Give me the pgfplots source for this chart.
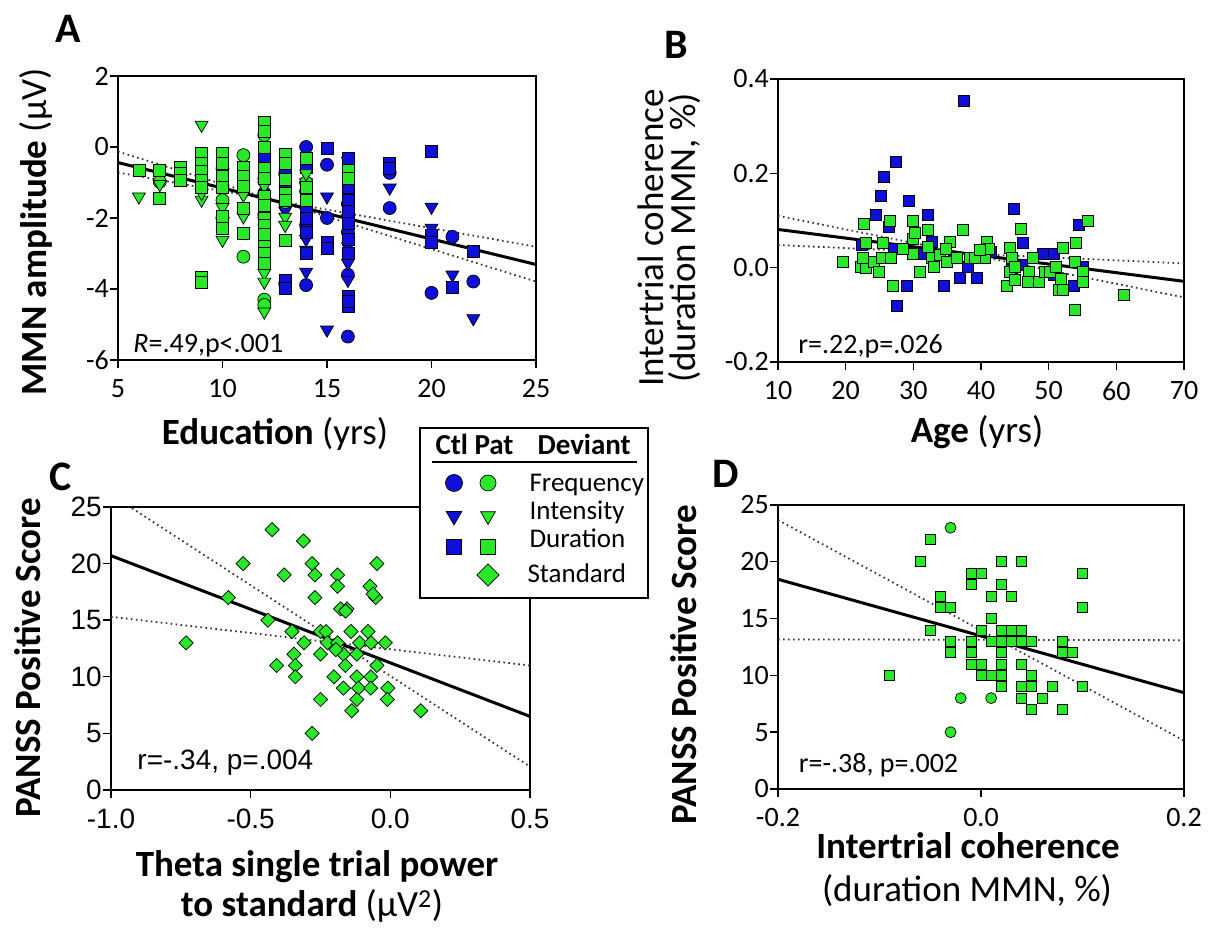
\documentclass[border=0pt]{standalone}
\usepackage{pgfplots}
\pgfplotsset{compat=1.18}
\usepackage{fontspec}
\setmainfont{Carlito}
\newfontfamily\arialfont{Liberation Sans}
\definecolor{ctlblue}{RGB}{15,15,220}
\definecolor{patgreen}{RGB}{40,232,40}
\newcommand{\tickfont}{\fontsize{28}{30}\selectfont}
\newcommand{\labfont}{\fontsize{37}{40}\selectfont}
\newcommand{\letfont}{\fontsize{42}{44}\selectfont\bfseries}
\pgfplotsset{
  panel/.style={
    scale only axis, anchor=south west,
    axis line style={line width=1.6pt},
    every tick/.style={black, line width=1.4pt},
    tick align=outside,
    xtick pos=left, ytick pos=left,
    major tick length=8pt,
    ticklabel style={font=\tickfont, inner sep=1pt},
    xticklabel style={yshift=-10pt},
    clip=true,
  },
  ctl/.style={only marks, mark options={fill=ctlblue, draw=black, line width=0.7pt}},
  pat/.style={only marks, mark options={fill=patgreen, draw=black, line width=0.7pt}},
  down/.style={mark=triangle*, every mark/.append style={rotate=180}},
  diam/.style={mark=square*, every mark/.append style={rotate=45}},
  reg/.style={no marks, black, line width=3pt},
  ci/.style={no marks, black!80, line width=1.8pt, dash pattern=on 1.6pt off 3.4pt},
}
\begin{document}
\begin{tikzpicture}
\useasboundingbox (0pt,0pt) rectangle (1213pt,928pt);

% ---------------- Panel A ----------------
\begin{axis}[panel, at={(118pt,568pt)}, width=418pt, height=284pt,
  xmin=5, xmax=25, ymin=-6, ymax=2,
  xtick={5,10,15,20,25}, xticklabels={5,10,15,20,25},
  ytick={-6,-4,-2,0,2}, yticklabels={-6,-4,-2,0,2}]
\addplot[ctl, mark=*, mark size=6.5pt] coordinates {
(12,-1.3) (13,-0.75) (14,0.0) (14,-1.25) (14,-2.2) (14,-3.89) (15,-0.5) (15,-2.0)
(16,-1.6) (16,-2.4) (16,-3.6) (16,-5.34) (18,-0.73) (18,-1.72) (20,-4.11) (21,-2.53)
(22,-3.79) (13,-3.85)};
\addplot[ctl, down, mark size=7.5pt] coordinates {
(12,-2.1) (13,-1.8) (14,-1.0) (14,-2.6) (14,-3.52) (15,-1.4) (15,-5.15) (16,-0.4)
(16,-2.0) (16,-3.27) (16,-3.75) (18,-1.15) (20,-1.69) (20,-2.28) (21,-3.6) (22,-4.83)
(14,-2.9) (16,-2.8)};
\addplot[ctl, mark=square*, mark size=6pt] coordinates {
(12,-0.31) (12,-2.5) (13,-0.56) (13,-1.15) (13,-3.75) (13,-3.97) (14,-0.56) (14,-1.7)
(14,-2.0) (14,-2.4) (14,-2.99) (15,-0.03) (15,-2.7) (15,-2.85) (16,-0.31) (16,-1.15)
(16,-1.49) (16,-1.8) (16,-2.15) (16,-2.6) (16,-2.99) (16,-4.2) (16,-4.5) (16,-4.35)
(18,-0.45) (18,-0.6) (20,-0.13) (20,-2.48) (20,-2.7) (21,-3.94) (22,-2.95)};
\addplot[pat, mark=*, mark size=6.5pt] coordinates {
(7,-0.98) (9,-0.95) (10,-1.5) (10,-2.0) (11,-0.23) (11,-3.09) (12,0.34) (12,-0.9)
(12,-1.9) (12,-4.3) (12,-4.45) (13,-1.55) (14,-1.0) (10,-0.6)};
\addplot[pat, down, mark size=7.5pt] coordinates {
(6,-1.4) (7,-1.05) (8,-0.9) (9,0.62) (9,-1.49) (9,-1.3) (10,-1.7) (10,-2.62) (10,-2.1)
(11,-1.96) (11,-1.35) (12,-1.1) (12,-3.55) (12,-3.8) (12,-4.64) (12,-2.3) (13,-1.97)
(13,-2.2) (14,-0.75)};
\addplot[pat, mark=square*, mark size=6pt] coordinates {
(6,-0.65) (7,-0.65) (7,-1.44) (8,-0.56) (8,-0.75) (8,-0.93) (9,-0.18) (9,-0.46) (9,-0.7)
(9,-0.95) (9,-1.15) (9,-3.66) (9,-3.8) (10,-0.18) (10,-0.46) (10,-0.84) (10,-1.15)
(10,-1.96) (10,-2.28) (11,-0.56) (11,-0.84) (11,-1.12) (11,-1.72) (11,-2.43) (12,0.68)
(12,0.45) (12,0.0) (12,-0.59) (12,-0.87) (12,-1.4) (12,-1.65) (12,-2.0) (12,-2.2)
(12,-2.7) (12,-3.0) (12,-3.27) (12,-2.45) (13,-0.2) (13,-0.45) (13,-0.9) (13,-1.3)
(13,-1.5) (13,-2.62) (14,-0.31) (14,-1.15) (14,-1.49) (16,-0.65) (16,-0.87)};
\addplot[ci] coordinates {(5,-0.13) (25,-3.79)};
\addplot[ci] coordinates {(5,-0.72) (25,-2.81)};
\addplot[reg] coordinates {(5,-0.44) (25,-3.31)};
\node[anchor=base west, font=\tickfont] at (axis cs:5.57,-5.80) {\textit{R}=.49,p<.001};
\end{axis}

% ---------------- Panel B ----------------
\begin{axis}[panel, at={(778pt,566pt)}, width=406pt, height=283pt,
  xmin=10, xmax=70, ymin=-0.2, ymax=0.4,
  xtick={10,20,30,40,50,60,70}, xticklabels={10,20,30,40,50,60,70},
  ytick={-0.2,0,0.2,0.4}, yticklabels={-0.2,0.0,0.2,0.4}]
\addplot[ctl, mark=square*, mark size=5.5pt] coordinates {
(37.4,0.353) (27.4,0.224) (25.7,0.193) (25.2,0.152) (29.3,0.141) (24.5,0.112) (32.1,0.112)
(44.8,0.124) (54.4,0.090) (46.2,0.052) (26.4,0.087) (32.7,0.055) (22.4,0.048) (27.1,0.040)
(31.1,0.030) (49.2,0.030) (50.7,0.030) (36.8,-0.021) (39.4,-0.021) (34.5,-0.039)
(29.0,-0.039) (27.6,-0.080) (38.0,0.002) (46.1,0.005) (53.7,-0.039) (55.0,0.002)
(50.7,-0.016) (41.4,0.034) (44.6,0.0) (36.0,0.020)};
\addplot[pat, mark=square*, mark size=5.5pt] coordinates {
(19.6,0.012) (22.7,0.093) (23.0,0.053) (22.3,0.002) (23.0,0.0) (22.5,0.02) (24.1,0.012)
(24.9,-0.009) (25.5,0.053) (25.3,0.02) (26.6,0.1) (26.7,0.02) (26.9,-0.039) (29.9,0.1)
(29.9,0.061) (30.0,0.03) (30.2,0.073) (28.5,0.04) (30.9,-0.009) (32.1,0.081) (32.2,0.044)
(32.8,0.02) (33.1,0.002) (33.9,0.027) (35.4,0.055) (34.8,0.04) (35.0,0.012) (37.3,0.081)
(36.4,0.02) (38.3,0.02) (40.0,0.03) (40.6,0.02) (40.9,0.055) (41.2,0.04) (39.1,0.02)
(44.2,0.043) (43.8,-0.039) (44.3,-0.009) (44.6,0.02) (45.0,0.002) (45.0,-0.026)
(45.9,0.083) (47.1,-0.009) (47.7,0.02) (46.9,-0.03) (48.5,-0.03) (49.4,-0.009)
(50.1,-0.009) (51.1,0.002) (51.5,-0.048) (52.1,-0.048) (51.8,-0.023) (52.1,0.043)
(54.0,0.053) (53.9,0.012) (55.0,-0.009) (55.0,-0.03) (55.8,0.1) (53.9,-0.089)
(61.1,-0.058) (39.8,0.037)};
\addplot[ci] coordinates {(10,0.110) (70,-0.063)};
\addplot[ci] coordinates {(10,0.048) (70,0.009)};
\addplot[reg] coordinates {(10,0.081) (70,-0.029)};
\node[anchor=base west, font=\tickfont] at (axis cs:12.5,-0.181) {r=.22,p=.026};
\end{axis}

% ---------------- Panel C ----------------
\begin{axis}[panel, at={(111pt,138pt)}, width=419pt, height=283pt,
  xmin=-1, xmax=0.5, ymin=0, ymax=25,
  ticklabel style={font=\arialfont\tickfont},
  xtick={-1,-0.5,0,0.5}, xticklabels={-1.0,-0.5,0.0,0.5},
  ytick={0,5,10,15,20,25}, yticklabels={0,5,10,15,20,25}]
\addplot[pat, diam, mark size=5pt] coordinates {
(-0.423,23) (-0.311,22) (-0.527,20) (-0.28,20) (-0.048,20) (-0.38,19) (-0.27,19)
(-0.189,19) (-0.189,18) (-0.073,18) (-0.58,17) (-0.27,17) (-0.052,17) (-0.062,17.3)
(-0.178,16) (-0.155,16) (-0.16,15.8) (-0.438,15) (-0.352,14) (-0.25,14) (-0.23,14)
(-0.141,14) (-0.08,14) (-0.731,13) (-0.309,13) (-0.225,13) (-0.189,13) (-0.11,13)
(-0.069,13) (-0.018,13) (-0.345,12) (-0.25,12) (-0.168,12) (-0.12,12) (-0.195,12.4)
(-0.407,11) (-0.34,11) (-0.161,11) (-0.048,11) (-0.34,10) (-0.202,10) (-0.12,10)
(-0.07,10) (-0.168,9) (-0.114,9) (-0.07,9) (-0.009,9) (-0.25,8) (-0.12,8) (-0.011,8)
(-0.138,7) (0.109,7) (-0.28,5)};
\addplot[ci] coordinates {(-1,26.1) (0.5,2.06)};
\addplot[ci] coordinates {(-1,15.3) (0.5,11.0)};
\addplot[reg] coordinates {(-1,20.7) (0.5,6.5)};
\node[anchor=base west, font=\arialfont\tickfont] at (axis cs:-0.918,1.77) {r=-.34, p=.004};
\end{axis}

% ---------------- Legend ----------------
\begin{axis}[scale only axis, anchor=south west, at={(420pt,330pt)}, width=228pt, height=170pt,
  xmin=420, xmax=648, ymin=330, ymax=500, xtick=\empty, ytick=\empty,
  axis line style={line width=1.6pt}, axis background/.style={fill=white}, clip=false]
\addplot[ctl, mark=*, mark size=8.5pt] coordinates {(454,445)};
\addplot[pat, mark=*, mark size=8pt] coordinates {(488,445)};
\addplot[ctl, down, mark size=9pt] coordinates {(454,412)};
\addplot[pat, down, mark size=8.5pt] coordinates {(488,412)};
\addplot[ctl, mark=square*, mark size=7.5pt] coordinates {(454,381)};
\addplot[pat, mark=square*, mark size=7.5pt] coordinates {(488,381)};
\addplot[pat, diam, mark size=7.8pt] coordinates {(488,353)};
\node[anchor=base west, font=\fontsize{29}{31}\selectfont\bfseries] at (axis cs:432,473) {Ctl};
\node[anchor=base west, font=\fontsize{29}{31}\selectfont\bfseries] at (axis cs:471,473) {Pat};
\node[anchor=base west, font=\fontsize{29}{31}\selectfont\bfseries] at (axis cs:534,473) {Deviant};
\draw[line width=1.3pt] (axis cs:432,466) -- (axis cs:637,466);
\node[anchor=base west, font=\fontsize{27}{29}\selectfont] at (axis cs:526,436) {Frequency};
\node[anchor=base west, font=\fontsize{27}{29}\selectfont] at (axis cs:526,408) {Intensity};
\node[anchor=base west, font=\fontsize{27}{29}\selectfont] at (axis cs:526,380) {Duration};
\node[anchor=base west, font=\fontsize{27}{29}\selectfont] at (axis cs:524,345) {Standard};
\end{axis}

% ---------------- Panel D ----------------
\begin{axis}[panel, at={(778pt,139pt)}, width=406pt, height=284pt,
  xmin=-0.2, xmax=0.2, ymin=0, ymax=25,
  xtick={-0.2,0,0.2}, xticklabels={-0.2,0.0,0.2},
  ytick={0,5,10,15,20,25}, yticklabels={0,5,10,15,20,25}]
\addplot[pat, mark=square*, mark size=5pt] coordinates {
(-0.05,22) (-0.06,20) (0.02,20) (0.04,20) (-0.01,19) (0.0,19) (0.10,19) (-0.01,18)
(0.02,18) (-0.04,17) (0.01,17) (0.03,17) (-0.04,16) (-0.03,16) (0.10,16) (0.01,15)
(-0.05,14) (0.0,14) (0.02,14) (0.03,14) (0.04,14) (-0.03,13) (-0.01,13) (0.01,13)
(0.02,13) (0.03,13) (0.04,13) (0.05,13) (0.08,13) (-0.03,12) (-0.01,12) (0.02,12)
(0.08,12) (0.09,12) (-0.01,11) (0.0,11) (0.02,11) (0.04,11) (-0.09,10) (0.0,10)
(0.01,10) (0.02,10) (0.05,10) (0.02,9) (0.04,9) (0.05,9) (0.07,9) (0.10,9) (0.04,8)
(0.06,8) (0.05,7) (0.08,7)};
\addplot[pat, mark=*, mark size=5.5pt] coordinates {(-0.03,23) (-0.02,8) (0.01,8) (-0.03,5)};
\addplot[ci] coordinates {(-0.2,23.68) (0.2,4.25)};
\addplot[ci] coordinates {(-0.2,13.17) (0.2,13.10)};
\addplot[reg] coordinates {(-0.2,18.46) (0.2,8.48)};
\node[anchor=base west, font=\tickfont] at (axis cs:-0.183,1.41) {r=-.38, p=.002};
\end{axis}

% ---------------- Labels ----------------
\node[font=\letfont] at (68pt,899pt) {A};
\node[font=\letfont] at (676pt,883pt) {B};
\node[font=\letfont] at (61pt,451pt) {C};
\node[font=\letfont] at (726pt,454pt) {D};

\node[font=\labfont, anchor=base] at (275pt,483pt) {\textbf{Education} (yrs)};
\node[font=\labfont, rotate=90] at (36pt,696pt) {\textbf{MMN amplitude} (µV)};
\node[font=\labfont, anchor=base] at (977pt,485pt) {\textbf{Age} (yrs)};
\node[font=\labfont, rotate=90] at (651pt,690pt) {Intertrial coherence};
\node[font=\labfont, rotate=90] at (685pt,690pt) {(duration MMN, \%)};
\node[font=\labfont, rotate=90] at (28pt,270pt) {\textbf{PANSS Positive Score}};
\node[font=\labfont, anchor=base] at (317pt,51pt) {\textbf{Theta single trial power}};
\node[font=\labfont, anchor=base] at (312pt,11pt) {\textbf{to standard} (µV\textsuperscript{2})};
\node[font=\labfont, rotate=90] at (684pt,263pt) {\textbf{PANSS Positive Score}};
\node[font=\labfont, anchor=base] at (968pt,69pt) {\textbf{Intertrial coherence}};
\node[font=\labfont, anchor=base] at (967pt,26pt) {(duration MMN, \%)};
\end{tikzpicture}
\end{document}
